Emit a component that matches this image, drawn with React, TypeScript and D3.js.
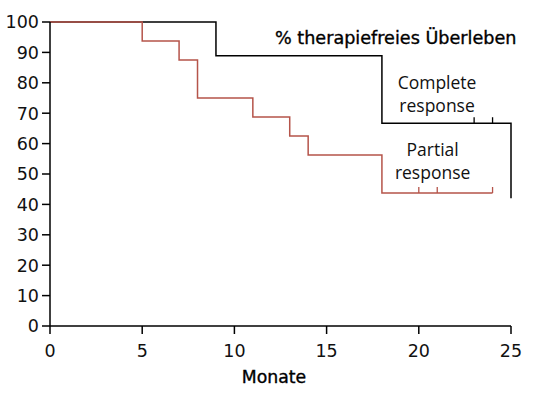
import { curveStepAfter, line, scaleLinear } from 'd3'

type StepPoint = [number, number]

// Kaplan-Meier steps (month, % free of therapy)
const completeSteps: StepPoint[] = [
  [0, 100],
  [9, 88.9],
  [18, 66.7],
  [25, 42],
]
const completeCensored: StepPoint[] = [
  [23, 66.7],
  [24, 66.7],
]

const partialSteps: StepPoint[] = [
  [0, 100],
  [5, 93.75],
  [7, 87.5],
  [8, 75],
  [11, 68.75],
  [13, 62.5],
  [14, 56.25],
  [18, 43.75],
  [24, 43.75],
]
const partialCensored: StepPoint[] = [
  [20, 43.75],
  [21, 43.75],
  [24, 43.75],
]

const xTicks = [0, 5, 10, 15, 20, 25]
const yTicks = [0, 10, 20, 30, 40, 50, 60, 70, 80, 90, 100]

const width = 536
const height = 398
const margin = { top: 22, right: 25, bottom: 72, left: 50 }

const partialColor = '#b5544a'
const labelFont = '"DejaVu Sans", sans-serif'
const noteFont = '"Open Sans", sans-serif'

function App() {
  const innerWidth = width - margin.left - margin.right
  const innerHeight = height - margin.top - margin.bottom

  const xScale = scaleLinear().domain([0, 25]).range([0, innerWidth])
  const yScale = scaleLinear().domain([0, 100]).range([innerHeight, 0])

  const stepLine = line<StepPoint>()
    .x((d) => xScale(d[0]))
    .y((d) => yScale(d[1]))
    .curve(curveStepAfter)

  return (
    <svg
      width={width}
      height={height}
      viewBox={`0 0 ${width} ${height}`}
      style={{ position: 'absolute', left: 0, top: 0, background: '#fff' }}
    >
      <g transform={`translate(${margin.left}, ${margin.top})`}>
        <path d={stepLine(completeSteps) ?? ''} fill="none" stroke="#000" strokeWidth={1.5} />
        {completeCensored.map((d) => (
          <line
            key={`c-${d[0]}`}
            x1={xScale(d[0])}
            x2={xScale(d[0])}
            y1={yScale(d[1])}
            y2={yScale(d[1]) - 6}
            stroke="#000"
            strokeWidth={1.3}
          />
        ))}

        <path d={stepLine(partialSteps) ?? ''} fill="none" stroke={partialColor} strokeWidth={1.5} />
        {partialCensored.map((d) => (
          <line
            key={`p-${d[0]}`}
            x1={xScale(d[0])}
            x2={xScale(d[0])}
            y1={yScale(d[1])}
            y2={yScale(d[1]) - 6}
            stroke={partialColor}
            strokeWidth={1.3}
          />
        ))}

        {/* axes */}
        <line x1={0} x2={0} y1={0} y2={innerHeight} stroke="#000" strokeWidth={1.5} />
        <line x1={0} x2={innerWidth} y1={innerHeight} y2={innerHeight} stroke="#000" strokeWidth={1.5} />

        {yTicks.map((tick) => (
          <g key={`y-${tick}`} transform={`translate(0, ${yScale(tick)})`}>
            <line x1={-8} x2={0} stroke="#000" strokeWidth={1.5} />
            <text
              x={-11}
              dy="0.36em"
              textAnchor="end"
              fontFamily={labelFont}
              fontSize={17.5}
              fill="#111"
            >
              {tick}
            </text>
          </g>
        ))}

        {xTicks.map((tick) => (
          <g key={`x-${tick}`} transform={`translate(${xScale(tick)}, ${innerHeight})`}>
            <line y1={0} y2={8} stroke="#000" strokeWidth={1.5} />
            <text y={31} textAnchor="middle" fontFamily={labelFont} fontSize={17.5} fill="#111">
              {tick}
            </text>
          </g>
        ))}

        <text
          x={224}
          y={innerHeight + 57}
          textAnchor="middle"
          fontFamily={labelFont}
          fontSize={17.3}
          fill="#000"
          stroke="#000"
          strokeWidth={0.35}
        >
          Monate
        </text>

        {/* annotations */}
        <text
          x={225}
          y={22}
          fontFamily={labelFont}
          fontSize={17.6}
          fill="#000"
          stroke="#000"
          strokeWidth={0.35}
        >
          % therapiefreies Überleben
        </text>
        <text textAnchor="middle" fontFamily={noteFont} fontSize={17.5} fill="#111">
          <tspan x={xScale(20.99)} y={67}>Complete</tspan>
          <tspan x={xScale(20.99)} y={90}>response</tspan>
        </text>
        <text textAnchor="middle" fontFamily={noteFont} fontSize={17.5} fill="#111">
          <tspan x={xScale(20.75)} y={134}>Partial</tspan>
          <tspan x={xScale(20.75)} y={157}>response</tspan>
        </text>
      </g>
    </svg>
  )
}

export default App
